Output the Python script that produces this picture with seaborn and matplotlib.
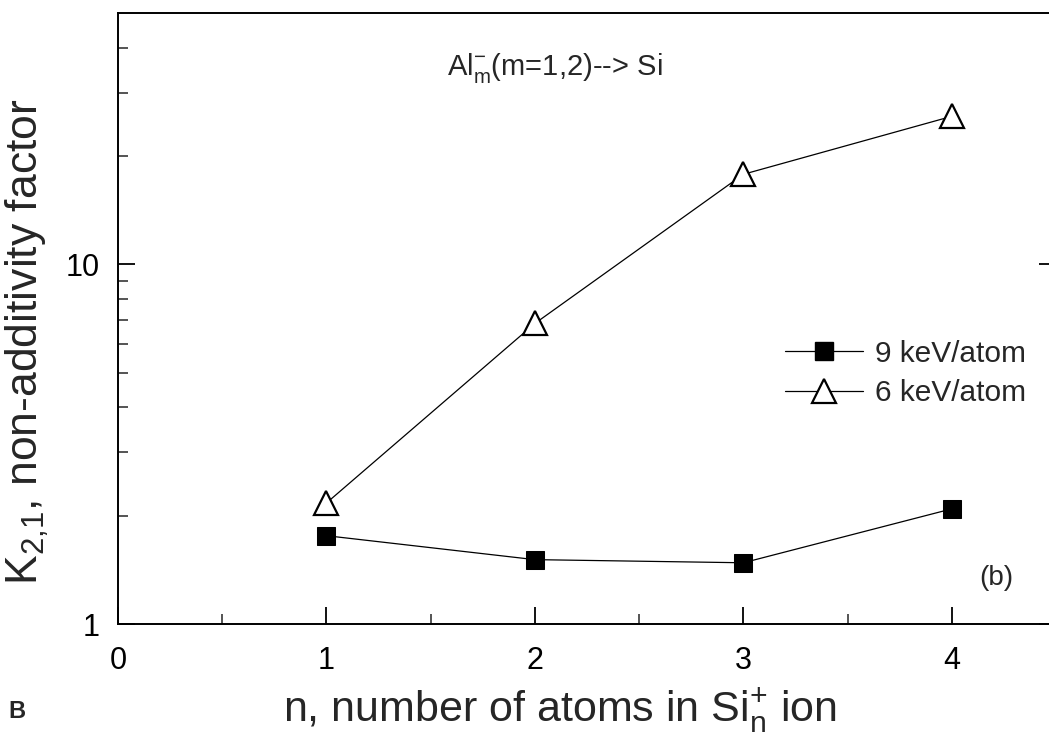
import matplotlib
matplotlib.use("Agg")
import matplotlib.pyplot as plt
import seaborn as sns
import pandas as pd
from matplotlib.ticker import FixedLocator, NullFormatter, MultipleLocator
from matplotlib.lines import Line2D

# Cluster size n of the Si_n+ ion
n_atoms = [1, 2, 3, 4]
# Non-additivity factor K_{2,1}
k_9kev = [1.76, 1.51, 1.48, 2.09]
k_6kev = [2.17, 6.85, 17.8, 25.8]
series_labels = ["9 keV/atom", "6 keV/atom"]

sns.set_theme(style="ticks")
plt.rcParams["font.family"] = ["Liberation Sans", "DejaVu Sans"]
plt.rcParams["mathtext.fontset"] = "custom"
plt.rcParams["mathtext.rm"] = "Liberation Sans"
plt.rcParams["mathtext.it"] = "Liberation Sans"

df9 = pd.DataFrame({"n": n_atoms, "K": k_9kev})
df6 = pd.DataFrame({"n": n_atoms, "K": k_6kev})

W, H = 1049, 734
fig = plt.figure(figsize=(W / 100, H / 100), dpi=100)
ax = fig.add_axes([118 / W, 110 / H, 938 / W, 611 / H])

sns.lineplot(data=df9, x="n", y="K", ax=ax, color="black", linewidth=0.9,
             marker="s", markersize=13, markerfacecolor="black",
             markeredgecolor="black", zorder=3)
sns.lineplot(data=df6, x="n", y="K", ax=ax, color="black", linewidth=0.9,
             marker="^", markersize=17, markerfacecolor="white",
             markeredgecolor="black", markeredgewidth=1.6, zorder=3)

ax.set_yscale("log")
ax.set_xlim(0, 4.5)
ax.set_ylim(1, 50)

ax.xaxis.set_major_locator(MultipleLocator(1))
ax.xaxis.set_minor_locator(MultipleLocator(0.5))
ax.yaxis.set_major_locator(FixedLocator([1, 10]))
ax.yaxis.set_minor_locator(FixedLocator([2, 3, 4, 5, 6, 7, 8, 9,
                                         20, 30, 40]))
ax.yaxis.set_minor_formatter(NullFormatter())
ax.set_yticklabels(["1", "10"])

for side in ["top", "right", "bottom", "left"]:
    ax.spines[side].set_visible(True)
    ax.spines[side].set_linewidth(1.4)
    ax.spines[side].set_color("black")

ax.tick_params(axis="both", which="major", direction="in", length=12,
               width=1.3, labelsize=22, colors="black",
               right=True, top=False)
ax.tick_params(axis="x", which="major", pad=16)
ax.tick_params(axis="y", which="major", pad=13)
ax.tick_params(axis="both", which="minor", direction="in", length=7,
               width=1.1, right=False, top=False)

ax.set_xlabel(r"n, number of atoms in Si$_\mathregular{n}^{\mathregular{+}}$ ion",
              fontsize=31)
ax.xaxis.set_label_coords(0.471, -0.101)
ax.set_ylabel(r"K$_\mathregular{2{,}1}$, non-additivity factor", fontsize=32)
ax.yaxis.set_label_coords(-0.071, 0.462)

fig.text(447 / W, 1 - 75 / H,
         r"Al$_\mathregular{m}^{\mathregular{-}}$(m=1,2)--> Si",
         fontsize=21, ha="left", va="baseline")
ax.text(0.936, 0.075, "(b)", transform=ax.transAxes, fontsize=20,
        ha="center", va="center")
fig.text(0.008, 0.015, "B", fontsize=17, fontweight="bold", ha="left",
         va="bottom")

handles = [
    Line2D([], [], color="black", linewidth=0.9, marker="s", markersize=13,
           markerfacecolor="black", markeredgecolor="black"),
    Line2D([], [], color="black", linewidth=0.9, marker="^", markersize=17,
           markerfacecolor="white", markeredgecolor="black",
           markeredgewidth=1.6),
]
ax.legend(handles, series_labels, loc="center left",
          bbox_to_anchor=(0.711, 0.410), frameon=False, fontsize=21.5,
          handlelength=2.6, handletextpad=0.4, labelspacing=0.4,
          borderpad=0, borderaxespad=0)

fig.savefig("out.png", dpi=100)
